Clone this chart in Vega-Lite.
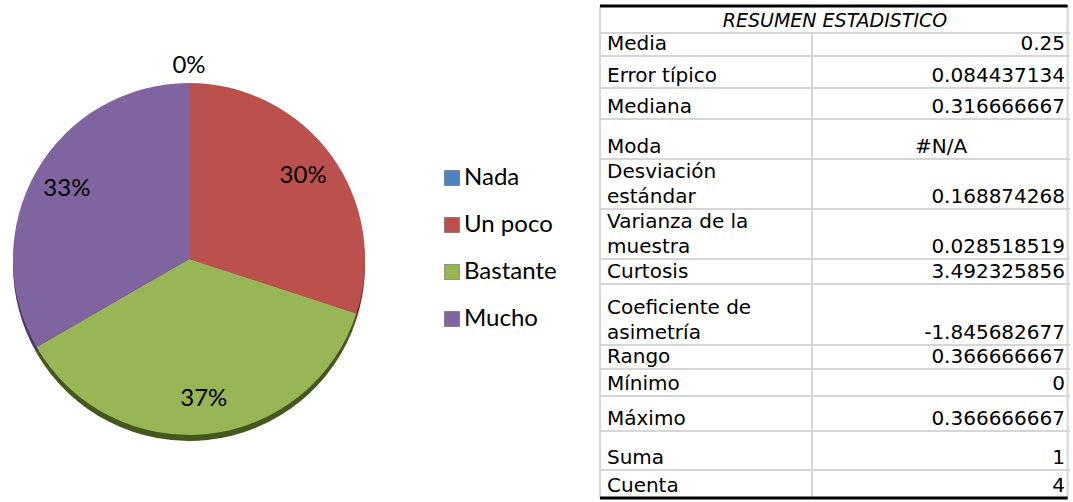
{
  "$schema": "https://vega.github.io/schema/vega-lite/v6.json",
  "padding": {"left": 0, "top": 4, "right": 0, "bottom": 0},
  "bounds": "flush",
  "spacing": 222,
  "background": "white",
  "config": {"view": {"stroke": null}},
  "datasets": {
    "shares": [
      {"i": 0, "cat": "Nada", "pct": 0},
      {"i": 1, "cat": "Un poco", "pct": 0.3},
      {"i": 2, "cat": "Bastante", "pct": 0.366666667},
      {"i": 3, "cat": "Mucho", "pct": 0.333333333}
    ],
    "stats": [
      {"i": 0, "label": "RESUMEN ESTADISTICO", "value": "", "h": 27},
      {"i": 1, "label": "Media", "value": "0.25", "h": 23},
      {"i": 2, "label": "Error típico", "value": "0.084437134", "h": 32},
      {"i": 3, "label": "Mediana", "value": "0.316666667", "h": 31},
      {"i": 4, "label": "Moda", "value": "#N/A", "h": 40},
      {"i": 5, "label": "Desviación\nestándar", "value": "0.168874268", "h": 50},
      {"i": 6, "label": "Varianza de la\nmuestra", "value": "0.028518519", "h": 50},
      {"i": 7, "label": "Curtosis", "value": "3.492325856", "h": 25},
      {"i": 8, "label": "Coeficiente de\nasimetría", "value": "-1.845682677", "h": 61},
      {"i": 9, "label": "Rango", "value": "0.366666667", "h": 24},
      {"i": 10, "label": "Mínimo", "value": "0", "h": 27},
      {"i": 11, "label": "Máximo", "value": "0.366666667", "h": 35},
      {"i": 12, "label": "Suma", "value": "1", "h": 39},
      {"i": 13, "label": "Cuenta", "value": "4", "h": 28}
    ]
  },
  "hconcat": [
    {
      "width": 378,
      "height": 498,
      "data": {"name": "shares"},
      "layer": [
        {
          "mark": {"type": "arc", "outerRadius": 176, "yOffset": 10},
          "encoding": {
            "theta": {"field": "pct", "type": "quantitative", "stack": true},
            "order": {"field": "i", "type": "quantitative"},
            "color": {
              "field": "cat", "type": "nominal",
              "scale": {"domain": ["Nada", "Un poco", "Bastante", "Mucho"], "range": ["#2c4d75", "#772c2a", "#46561f", "#4d3b62"]},
              "legend": null
            }
          }
        },
        {
          "mark": {"type": "arc", "outerRadius": 176, "yOffset": 4},
          "encoding": {
            "theta": {"field": "pct", "type": "quantitative", "stack": true},
            "order": {"field": "i", "type": "quantitative"},
            "color": {
              "field": "cat", "type": "nominal",
              "scale": {"domain": ["Nada", "Un poco", "Bastante", "Mucho"], "range": ["#4F81BD", "#BB504D", "#98B656", "#7F64A0"]},
              "legend": {
                "orient": "none", "legendX": 440, "legendY": 160, "title": null,
                "labelFont": "Lato", "labelFontSize": 24, "labelColor": "#000000",
                "symbolType": "square", "symbolSize": 225, "rowPadding": 23, "labelOffset": 0,
                "symbolStrokeColor": "rgba(0,0,0,0.3)", "symbolStrokeWidth": 1, "padding": 0
              }
            }
          }
        },
        {
          "transform": [{"filter": "datum.pct > 0"}],
          "mark": {"type": "text", "radius": 141, "yOffset": 4, "font": "Lato", "fontSize": 24, "color": "#000000"},
          "encoding": {
            "theta": {"field": "pct", "type": "quantitative", "stack": true},
            "order": {"field": "i", "type": "quantitative"},
            "text": {"field": "pct", "type": "quantitative", "format": ".0%"}
          }
        },
        {
          "transform": [{"filter": "datum.pct == 0"}],
          "mark": {"type": "text", "radius": 193, "yOffset": 4, "font": "Lato", "fontSize": 24, "color": "#000000"},
          "encoding": {
            "theta": {"field": "pct", "type": "quantitative", "stack": true},
            "order": {"field": "i", "type": "quantitative"},
            "text": {"field": "pct", "type": "quantitative", "format": ".0%"}
          }
        }
      ],
      "resolve": {"scale": {"color": "independent"}}
    },
    {
      "width": 470,
      "height": 492,
      "data": {"name": "stats"},
      "transform": [
        {"window": [{"op": "sum", "field": "h", "as": "yb"}], "sort": [{"field": "i"}], "frame": [null, 0]},
        {"calculate": "datum.yb - datum.h", "as": "yt"}
      ],
      "layer": [
        {
          "transform": [{"filter": "datum.i < 13"}],
          "mark": {"type": "rule", "color": "#d6d6d6", "strokeWidth": 2},
          "encoding": {
            "y": {"field": "yb", "type": "quantitative", "axis": null, "scale": {"reverse": true, "nice": false, "zero": true}},
            "x": {"datum": 0, "type": "quantitative", "axis": null, "scale": {"domain": [0, 1], "nice": false}},
            "x2": {"datum": 1}
          }
        },
        {
          "mark": {"type": "rule", "color": "#d6d6d6", "strokeWidth": 2},
          "encoding": {
            "y": {"field": "yt", "type": "quantitative", "axis": null},
            "y2": {"field": "yb"},
            "x": {"datum": 0, "type": "quantitative", "axis": null}
          }
        },
        {
          "mark": {"type": "rule", "color": "#d6d6d6", "strokeWidth": 2},
          "encoding": {
            "y": {"field": "yt", "type": "quantitative", "axis": null},
            "y2": {"field": "yb"},
            "x": {"datum": 0.995, "type": "quantitative", "axis": null}
          }
        },
        {
          "transform": [{"filter": "datum.i > 0"}],
          "mark": {"type": "rule", "color": "#d6d6d6", "strokeWidth": 2},
          "encoding": {
            "y": {"field": "yt", "type": "quantitative", "axis": null},
            "y2": {"field": "yb"},
            "x": {"datum": 0.451, "type": "quantitative", "axis": null}
          }
        },
        {
          "transform": [{"filter": "datum.i == 0"}],
          "mark": {"type": "rule", "color": "#000000", "strokeWidth": 3},
          "encoding": {
            "y": {"field": "yt", "type": "quantitative", "axis": null},
            "x": {"datum": 0, "type": "quantitative", "axis": null},
            "x2": {"datum": 0.995}
          }
        },
        {
          "transform": [{"filter": "datum.i == 13"}],
          "mark": {"type": "rule", "color": "#000000", "strokeWidth": 3},
          "encoding": {
            "y": {"field": "yb", "type": "quantitative", "axis": null},
            "x": {"datum": 0, "type": "quantitative", "axis": null},
            "x2": {"datum": 0.995}
          }
        },
        {
          "transform": [{"filter": "datum.i == 0"}],
          "mark": {"type": "text", "align": "center", "baseline": "bottom", "dy": -2, "font": "DejaVu Sans", "fontStyle": "italic", "fontSize": 19, "color": "#000000"},
          "encoding": {
            "y": {"field": "yb", "type": "quantitative", "axis": null},
            "x": {"datum": 0.5, "type": "quantitative", "axis": null},
            "text": {"field": "label"}
          }
        },
        {
          "transform": [{"filter": "datum.i > 0 && datum.i != 5 && datum.i != 6 && datum.i != 8"}],
          "mark": {"type": "text", "align": "left", "baseline": "bottom", "dx": 7, "dy": -2, "font": "DejaVu Sans", "fontSize": 20, "color": "#000000"},
          "encoding": {
            "y": {"field": "yb", "type": "quantitative", "axis": null},
            "x": {"datum": 0, "type": "quantitative", "axis": null},
            "text": {"field": "label"}
          }
        },
        {
          "transform": [{"filter": "datum.i == 5 || datum.i == 6 || datum.i == 8"}],
          "mark": {"type": "text", "align": "left", "baseline": "bottom", "dx": 7, "dy": -27, "font": "DejaVu Sans", "fontSize": 20, "lineBreak": "\n", "lineHeight": 25, "color": "#000000"},
          "encoding": {
            "y": {"field": "yb", "type": "quantitative", "axis": null},
            "x": {"datum": 0, "type": "quantitative", "axis": null},
            "text": {"field": "label"}
          }
        },
        {
          "transform": [{"filter": "datum.i > 0 && datum.value != '#N/A'"}],
          "mark": {"type": "text", "align": "right", "baseline": "bottom", "dx": -5, "dy": -2, "font": "DejaVu Sans", "fontSize": 20, "color": "#000000"},
          "encoding": {
            "y": {"field": "yb", "type": "quantitative", "axis": null},
            "x": {"datum": 1, "type": "quantitative", "axis": null},
            "text": {"field": "value"}
          }
        },
        {
          "transform": [{"filter": "datum.value == '#N/A'"}],
          "mark": {"type": "text", "align": "center", "baseline": "bottom", "dy": -2, "font": "DejaVu Sans", "fontSize": 20, "color": "#000000"},
          "encoding": {
            "y": {"field": "yb", "type": "quantitative", "axis": null},
            "x": {"datum": 0.7255, "type": "quantitative", "axis": null},
            "text": {"field": "value"}
          }
        }
      ]
    }
  ]
}
